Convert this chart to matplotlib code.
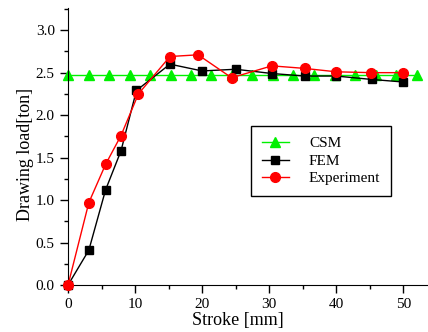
import matplotlib
matplotlib.use('Agg')
from matplotlib import pyplot as plt
from matplotlib.ticker import MultipleLocator

# Data
csm_x = [0, 3.06, 6.12, 9.18, 12.2, 15.3, 18.4, 21.4, 24.5, 27.5, 30.6, 33.6,
         36.7, 39.8, 42.8, 45.9, 49.0, 52.0]
csm_y = [2.47] * len(csm_x)

fem_x = [0, 3.1, 5.6, 7.9, 10.2, 15.2, 20.0, 25.0, 30.4, 35.3, 40.0, 45.3, 50.0]
fem_y = [0.0, 0.41, 1.12, 1.58, 2.29, 2.60, 2.52, 2.54, 2.49, 2.46, 2.46, 2.42, 2.39]

exp_x = [0, 3.1, 5.6, 7.9, 10.5, 15.2, 19.4, 24.4, 30.4, 35.3, 40.0, 45.2, 50.0]
exp_y = [0.0, 0.97, 1.42, 1.76, 2.25, 2.69, 2.71, 2.44, 2.58, 2.55, 2.51, 2.50, 2.50]

plt.rcParams['font.family'] = ['Liberation Serif', 'DejaVu Serif']

fig = plt.figure(figsize=(4.28, 3.32), dpi=100)
ax = fig.add_axes([0.159, 0.1416, 0.841, 0.834])

ax.plot(csm_x, csm_y, color='#00f000', lw=1, marker='^', ms=6.5,
        label='CSM', clip_on=False, zorder=2)
ax.plot(fem_x, fem_y, color='black', lw=1, marker='s', ms=6,
        label='FEM', clip_on=False, zorder=3)
ax.plot(exp_x, exp_y, color='red', lw=1, marker='o', ms=7,
        label='Experiment', clip_on=False, zorder=4)

ax.set_xlim(0, 53.7)
ax.set_ylim(0, 3.26)
ax.xaxis.set_major_locator(MultipleLocator(10))
ax.xaxis.set_minor_locator(MultipleLocator(5))
ax.yaxis.set_major_locator(MultipleLocator(0.5))
ax.yaxis.set_minor_locator(MultipleLocator(0.25))
ax.yaxis.set_major_formatter(plt.FormatStrFormatter('%.1f'))
ax.tick_params(which='major', length=6, width=1, labelsize=11, direction='out')
ax.tick_params(which='minor', length=3, width=1, direction='out')

for s in ['top', 'right']:
    ax.spines[s].set_visible(False)

ax.set_xlabel('Stroke [mm]', fontsize=13)
ax.set_ylabel('Drawing load[ton]', fontsize=13)
ax.xaxis.set_label_coords(0.471, -0.098)
ax.yaxis.set_label_coords(-0.095, 0.473)

leg = ax.legend(loc='upper left', bbox_to_anchor=(0.508, 0.574), fontsize=11,
                fancybox=False, edgecolor='black', framealpha=1, borderaxespad=0,
                handlelength=1.8, handletextpad=1.3, borderpad=0.7,
                labelspacing=0.25)
leg.get_frame().set_linewidth(1)

fig.savefig('out.png', dpi=100)
